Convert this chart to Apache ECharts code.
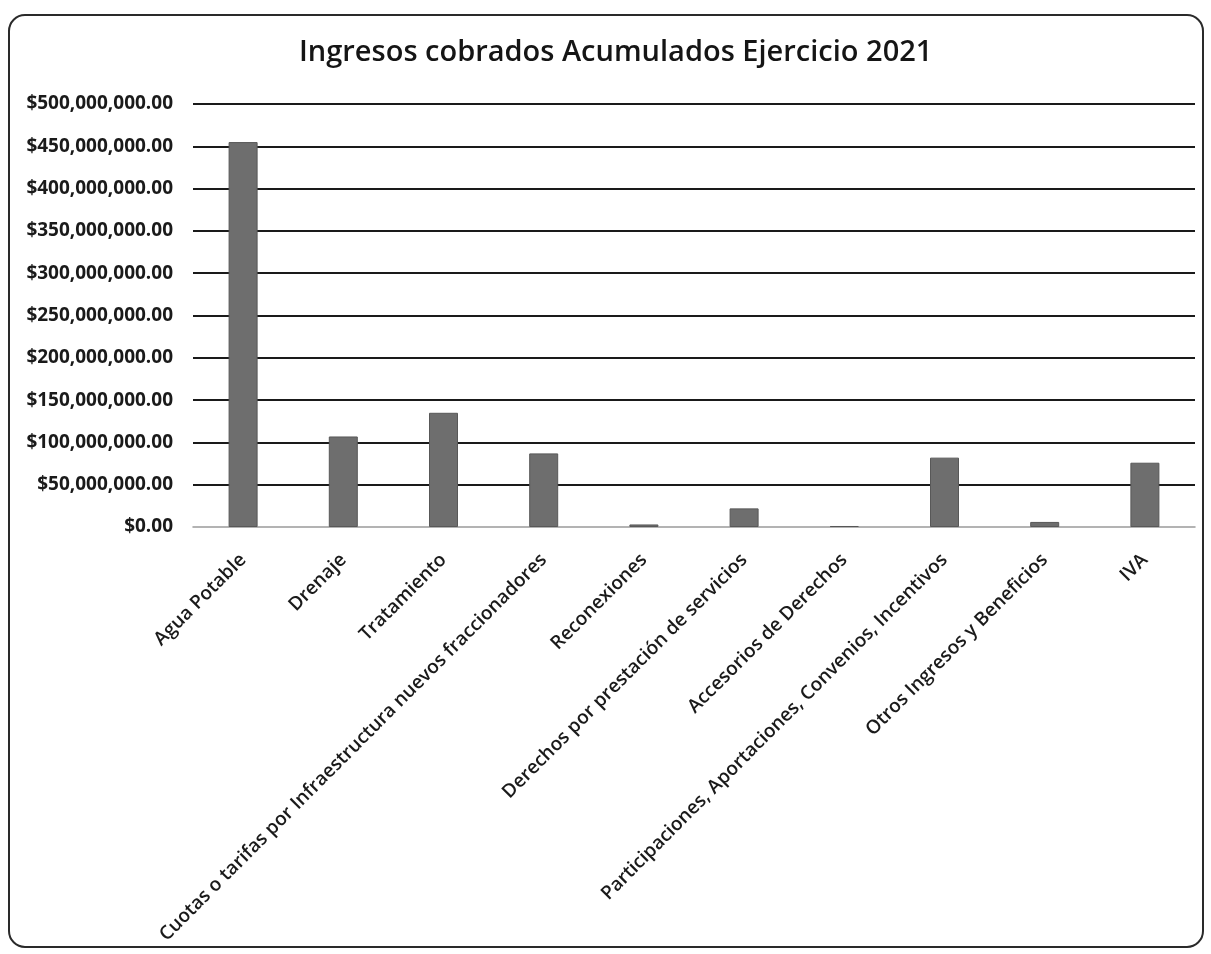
<!DOCTYPE html>
<html>
<head>
<meta charset="utf-8">
<script src="https://cdn.jsdelivr.net/npm/echarts@6/dist/echarts.min.js"></script>
<style>
html,body{margin:0;padding:0;background:#fff;}
#chart{width:1211px;height:954px;}
</style>
</head>
<body>
<div id="chart"></div>
<script>
const categories = [
  "Agua Potable",
  "Drenaje",
  "Tratamiento",
  "Cuotas o tarifas por Infraestructura nuevos fraccionadores",
  "Reconexiones",
  "Derechos por prestación de servicios",
  "Accesorios de Derechos",
  "Participaciones, Aportaciones, Convenios, Incentivos",
  "Otros Ingresos y Beneficios",
  "IVA"
];
const values = [455000000, 107000000, 135000000, 87000000, 3000000, 22000000, 1200000, 82000000, 6000000, 76000000];
const titleText = "Ingresos cobrados Acumulados Ejercicio 2021";

function money(v) {
  const s = Math.round(v).toString().replace(/\B(?=(\d{3})+(?!\d))/g, ",");
  return "$" + s + ".00";
}

const chart = echarts.init(document.getElementById('chart'), null, {renderer: 'canvas'});
const font = "'Open Sans', sans-serif";
chart.setOption({
  backgroundColor: '#ffffff',
  animation: false,
  title: {
    text: titleText,
    left: 294,
    top: 33,
    textStyle: {fontFamily: font, fontSize: 29, fontWeight: 600, color: '#151515'}
  },
  graphic: [{
    type: 'rect',
    shape: {x: 9, y: 15, width: 1194, height: 932, r: 16},
    style: {fill: 'none', stroke: '#2a2a2a', lineWidth: 2},
    silent: true,
    z: -1
  }],
  grid: {left: 193, right: 16, top: 104, bottom: 427, containLabel: false},
  xAxis: {
    type: 'category',
    data: categories,
    axisLine: {show: true, lineStyle: {color: '#9a9a9a', width: 1.5}},
    axisTick: {show: false},
    axisLabel: {
      interval: 0,
      rotate: 45,
      margin: 30,
      fontFamily: font,
      fontSize: 19,
      fontWeight: 600,
      color: '#1a1a1a'
    }
  },
  yAxis: {
    type: 'value',
    min: 0,
    max: 500000000,
    interval: 50000000,
    axisLine: {show: false},
    axisTick: {show: false},
    splitLine: {show: true, showMinLine: false, lineStyle: {color: '#1a1a1a', width: 2.2}},
    axisLabel: {
      margin: 20,
      fontFamily: font,
      fontSize: 19,
      fontWeight: 700,
      color: '#1a1a1a',
      formatter: money
    }
  },
  series: [{
    type: 'bar',
    data: values,
    barWidth: 29,
    itemStyle: {color: '#6e6e6e', borderColor: '#585858', borderWidth: 1}
  }]
});
</script>
</body>
</html>
